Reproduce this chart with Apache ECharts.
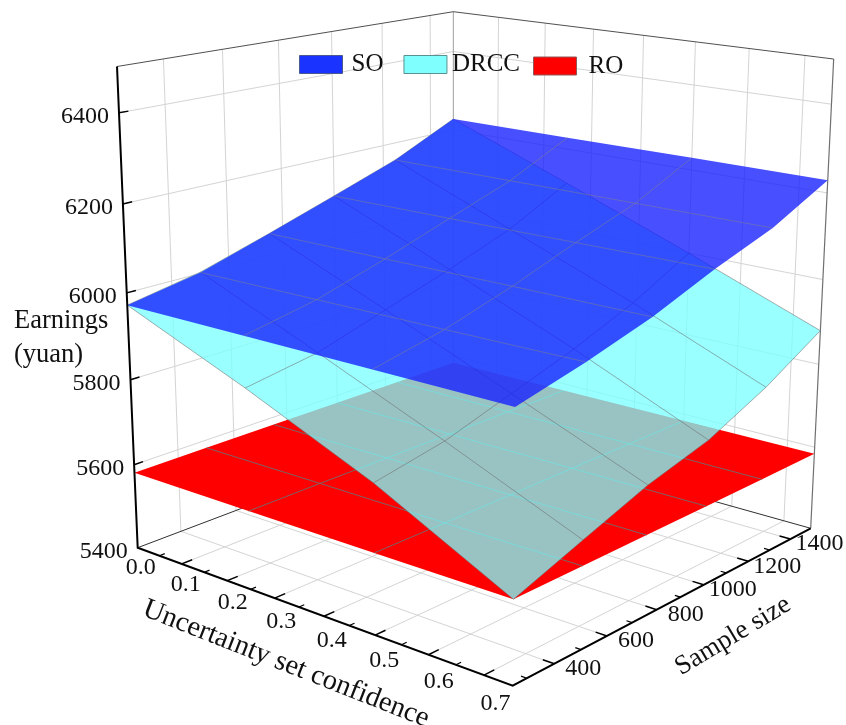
<!DOCTYPE html>
<html><head><meta charset="utf-8">
<style>html,body{margin:0;padding:0;background:#fff}#c{width:846px;height:725px}</style>
<script src="https://cdn.jsdelivr.net/npm/echarts@6/dist/echarts.min.js"></script>
</head><body><div id="c"></div>
<script>
// Mesh of the surfaces
var confMesh = [0, 0.25, 0.5, 0.75];
var sampleMesh = [250, 500, 750, 1000, 1250, 1500];
// Earnings per sample row, per confidence column
var soValues = [
  [5972, 5973, 5974, 5975],
  [6002, 6005, 6008, 6012],
  [6052, 6053, 6055, 6056],
  [6104, 6106, 6109, 6112],
  [6157, 6158, 6159, 6160],
  [6228, 6228, 6229, 6229]
];
var drccValues = [
  [5972, 5858, 5734, 5583],
  [6003, 5885, 5765, 5639],
  [6052, 5935, 5815, 5694],
  [6104, 5985, 5865, 5734],
  [6157, 6040, 5925, 5799],
  [6228, 6115, 6000, 5880]
];
var roValues = [
  [5581, 5581, 5582, 5583],
  [5581, 5582, 5582, 5583],
  [5581, 5582, 5582, 5583],
  [5581, 5582, 5583, 5583],
  [5581, 5582, 5583, 5583],
  [5581, 5582, 5583, 5584]
];
// Axis ticks
var confTicks = [0, 0.1, 0.2, 0.3, 0.4, 0.5, 0.6, 0.7];
var confMinor = [0.05, 0.15, 0.25, 0.35, 0.45, 0.55, 0.65];
var sampleTicks = [400, 600, 800, 1000, 1200, 1400];
var sampleMinor = [300, 500, 700, 900, 1100, 1300];
var earnTicks = [5400, 5600, 5800, 6000, 6200, 6400];
var confRange = [0, 0.75], sampleRange = [250, 1500], earnRange = [5400, 6500];

// Perspective camera of the 3D box
function project(conf, sample, earn) {
  var x = (conf - confRange[0]) / (confRange[1] - confRange[0]);
  var y = (sample - sampleRange[0]) / (sampleRange[1] - sampleRange[0]);
  var z = (earn - earnRange[0]) / (earnRange[1] - earnRange[0]);
  var w = 1 - 0.137 * x + 0.1634 * y - 0.0618 * z;
  return [(137.7 + 304.76 * x + 389.64 * y - 27.93 * z) / w,
          (547.7 + 44.06 * x - 49.51 * y - 485.31 * z) / w];
}
var FONT = '"Liberation Serif","Times New Roman",serif';
var cMin = confRange[0], cMax = confRange[1], sMin = sampleRange[0], sMax = sampleRange[1], eMin = earnRange[0], eMax = earnRange[1];

function line(api, pts, color, width) {
  return { type: 'polyline', silent: true,
    shape: { points: pts.map(function (p) { return api.coord(project(p[0], p[1], p[2])); }) },
    style: { stroke: color, fill: null, lineWidth: width } };
}
function renderBack(params, api) {
  var ch = [], G = '#d4d4d4';
  // floor grid
  confTicks.slice(1).forEach(function (c) { ch.push(line(api, [[c, sMin, eMin], [c, sMax, eMin]], G, 1)); });
  sampleTicks.forEach(function (s) { ch.push(line(api, [[cMin, s, eMin], [cMax, s, eMin]], G, 1)); });
  // wall grid
  sampleTicks.forEach(function (s) { ch.push(line(api, [[cMin, s, eMin], [cMin, s, eMax]], G, 1)); });
  confTicks.slice(1).forEach(function (c) { ch.push(line(api, [[c, sMax, eMin], [c, sMax, eMax]], G, 1)); });
  earnTicks.slice(1).forEach(function (e) { ch.push(line(api, [[cMin, sMin, e], [cMin, sMax, e], [cMax, sMax, e]], G, 1)); });
  // box
  ch.push(line(api, [[cMin, sMax, eMin], [cMin, sMax, eMax]], '#a0a0a0', 1));
  ch.push(line(api, [[cMax, sMax, eMin], [cMax, sMax, eMax]], '#707070', 1.2));
  ch.push(line(api, [[cMin, sMin, eMax], [cMin, sMax, eMax], [cMax, sMax, eMax]], '#505050', 1));
  ch.push(line(api, [[cMin, sMin, eMin], [cMin, sMax, eMin], [cMax, sMax, eMin]], '#303030', 1));
  return { type: 'group', children: ch };
}
function surface(values, fill, meshColor, meshWidth, withEdge) {
  return function (params, api) {
    var nS = sampleMesh.length, nC = confMesh.length, out = [], i, j, ch = [];
    for (j = 0; j < nC; j++) out.push([confMesh[j], sampleMesh[0], values[0][j]]);
    for (i = 1; i < nS; i++) out.push([confMesh[nC - 1], sampleMesh[i], values[i][nC - 1]]);
    for (j = nC - 2; j >= 0; j--) out.push([confMesh[j], sampleMesh[nS - 1], values[nS - 1][j]]);
    for (i = nS - 2; i > 0; i--) out.push([confMesh[0], sampleMesh[i], values[i][0]]);
    ch.push({ type: 'polygon', silent: true,
      shape: { points: out.map(function (p) { return api.coord(project(p[0], p[1], p[2])); }) },
      style: { fill: fill } });
    var iS = withEdge ? 0 : 1, iE = withEdge ? nS : nS - 1;
    for (i = iS; i < iE; i++) {
      ch.push(line(api, confMesh.map(function (c, k) { return [c, sampleMesh[i], values[i][k]]; }), meshColor, meshWidth));
    }
    var jS = withEdge ? 0 : 1, jE = withEdge ? nC : nC - 1;
    for (j = jS; j < jE; j++) {
      ch.push(line(api, sampleMesh.map(function (s, k) { return [confMesh[j], s, values[k][j]]; }), meshColor, meshWidth));
    }
    return { type: 'group', children: ch };
  };
}
function label(api, pos, dx, dy, text, align) {
  var p = api.coord(pos);
  return { type: 'text', silent: true, x: p[0] + dx, y: p[1] + dy,
    style: { text: text, font: '24px ' + FONT, fill: '#111', align: align || 'center', verticalAlign: 'middle' } };
}
function renderFront(params, api) {
  var ch = [], K = '#000';
  ch.push(line(api, [[cMin, sMin, eMax], [cMin, sMin, eMin], [cMax, sMin, eMin], [cMax, sMax, eMin]], K, 2));
  confTicks.forEach(function (c, i) {
    if (i > 0) ch.push(line(api, [[c, sMin, eMin], [c, sMin + 36, eMin]], K, 1.5));
    ch.push(label(api, project(c, sMin, eMin), 3 + 1.2 * i, 20 + 1.2 * i, c.toFixed(1)));
  });
  confMinor.forEach(function (c) { ch.push(line(api, [[c, sMin, eMin], [c, sMin + 18, eMin]], K, 1.2)); });
  sampleTicks.forEach(function (s) {
    ch.push(line(api, [[cMax, s, eMin], [cMax - 0.02, s, eMin]], K, 1.5));
    ch.push(label(api, project(cMax, s, eMin), 29, 5, String(s)));
  });
  sampleMinor.forEach(function (s) { ch.push(line(api, [[cMax, s, eMin], [cMax - 0.01, s, eMin]], K, 1.2)); });
  earnTicks.forEach(function (e) {
    if (e > eMin) ch.push(line(api, [[cMin, sMin, e], [cMin, sMin + 30, e]], K, 1.5));
    ch.push(label(api, project(cMin, sMin, e), -10, 4, String(e), 'right'));
  });
  var t1 = api.coord([286, 664]), t2 = api.coord([733, 636]), t3 = api.coord([14, 338]);
  ch.push({ type: 'text', silent: true, x: t1[0], y: t1[1], rotation: -21.5 * Math.PI / 180,
    style: { text: 'Uncertainty set confidence', font: '28.5px ' + FONT, fill: '#111', align: 'center', verticalAlign: 'middle' } });
  ch.push({ type: 'text', silent: true, x: t2[0], y: t2[1], rotation: 31 * Math.PI / 180,
    style: { text: 'Sample size', font: '27px ' + FONT, fill: '#111', align: 'center', verticalAlign: 'middle' } });
  ch.push({ type: 'text', silent: true, x: t3[0], y: t3[1],
    style: { text: 'Earnings\n(yuan)', font: '26.5px ' + FONT, lineHeight: 34, fill: '#111', align: 'left', verticalAlign: 'middle' } });
  return { type: 'group', children: ch };
}
var base = { type: 'custom', coordinateSystem: 'cartesian2d', silent: true, clip: false, animation: false, data: [[0, 0]] };
function S(o) { return Object.assign({}, base, o); }
var chart = echarts.init(document.getElementById('c'), null, { renderer: 'canvas' });
var legendText = { fontFamily: FONT, fontSize: 25, color: '#111' };
chart.setOption({
  animation: false,
  backgroundColor: '#fff',
  grid: { left: 0, right: 0, top: 0, bottom: 0 },
  xAxis: { type: 'value', min: 0, max: 846, show: false },
  yAxis: { type: 'value', min: 0, max: 725, inverse: true, show: false },
  legend: [{
    left: 299, top: 52, padding: 0, itemWidth: 43, itemHeight: 18, itemGap: 20, selectedMode: false, icon: 'rect',
    textStyle: legendText,
    data: [
      { name: 'SO', itemStyle: { color: '#1a33ff', borderColor: '#4a5a90', borderWidth: 1 }, textStyle: { padding: [0, 0, 0, 4] } },
      { name: 'DRCC', itemStyle: { color: '#80ffff', borderColor: '#5a9090', borderWidth: 1 } }
    ]
  }, {
    left: 533, top: 50, padding: 0, itemWidth: 43, itemHeight: 18, selectedMode: false, icon: 'rect',
    textStyle: legendText,
    data: [
      { name: 'RO', itemStyle: { color: '#ff0000', borderColor: '#905a5a', borderWidth: 1 }, textStyle: { padding: [0, 0, 0, 7], lineHeight: 32 } }
    ]
  }],
  series: [
    S({ name: 'frame', z: 1, renderItem: renderBack }),
    S({ name: 'RO', z: 2, itemStyle: { color: '#ff0000' }, renderItem: surface(roValues, '#ff0000', 'rgba(110,110,110,0.9)', 1, false) }),
    S({ name: 'DRCC', z: 3, itemStyle: { color: '#80ffff' }, renderItem: surface(drccValues, 'rgba(121,255,255,0.76)', 'rgba(110,110,110,0.8)', 0.7, true) }),
    S({ name: 'SO', z: 4, itemStyle: { color: '#1a33ff' }, renderItem: surface(soValues, 'rgba(20,30,255,0.78)', 'rgba(130,130,130,0.7)', 0.7, false) }),
    S({ name: 'axes', z: 5, renderItem: renderFront })
  ]
});
</script></body></html>
